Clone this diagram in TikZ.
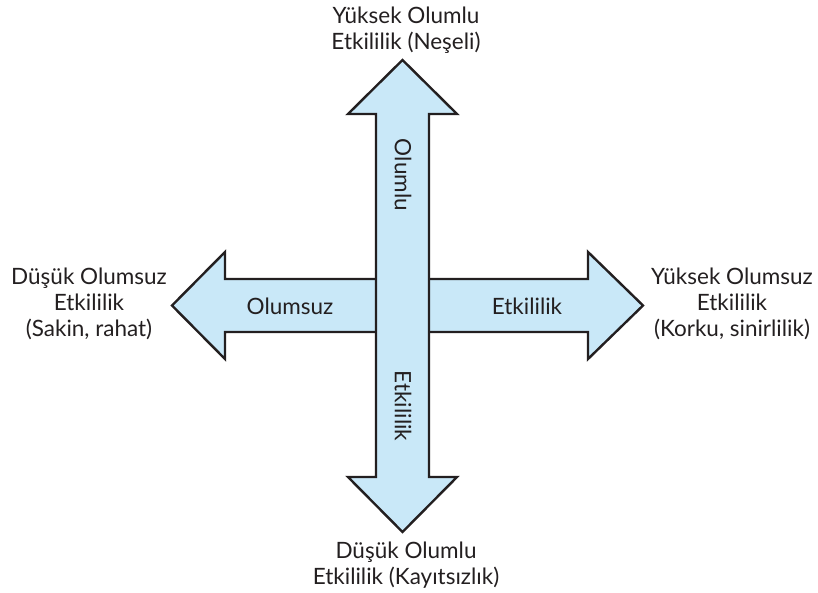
\documentclass[tikz,border=0pt]{standalone}
\usepackage{fontspec}
\setmainfont{Lato}
\begin{document}
\begin{tikzpicture}[x=1pt,y=-1pt,
  arrowbody/.style={fill=arrowfill,draw=ink,line width=2.4pt,line join=miter},
  lbl/.style={text=ink,font=\fontsize{22.5}{26}\selectfont,align=center,inner sep=0pt},
  inlbl/.style={text=ink,font=\fontsize{22.5}{26}\selectfont,inner sep=0pt}]
\definecolor{arrowfill}{HTML}{C9E8F8}
\definecolor{ink}{HTML}{231F20}
\useasboundingbox (0,0) rectangle (818,592);
% horizontal double arrow (Olumsuz <-> Etkililik)
\draw[arrowbody] (172,305.5) -- (225,252) -- (225,279) -- (588,279) -- (588,252)
  -- (643,305.5) -- (588,359) -- (588,332) -- (225,332) -- (225,359) -- cycle;
% vertical double arrow, drawn on top
\draw[arrowbody] (402.5,60) -- (457,114) -- (429,114) -- (429,477) -- (457,477)
  -- (402.5,532) -- (348,477) -- (376,477) -- (376,114) -- (348,114) -- cycle;
% labels inside the arrows
\node[inlbl] (neg) at (290,306) {Olumsuz};
\node[inlbl] (arh) at (527,306) {Etkililik};
\node[inlbl,rotate=-90] (pos) at (403,175) {Olumlu};
\node[inlbl,rotate=-90] (arv) at (403,406) {Etkililik};
% end labels
\node[lbl] (top) at (406,30) {Yüksek Olumlu\\Etkililik (Neşeli)};
\node[lbl] (bot) at (406,565) {Düşük Olumlu\\Etkililik (Kayıtsızlık)};
\node[lbl] (left) at (89,304) {Düşük Olumsuz\\Etkililik\\(Sakin, rahat)};
\node[lbl] (right) at (732,304) {Yüksek Olumsuz\\Etkililik\\(Korku, sinirlilik)};
\end{tikzpicture}
\end{document}
